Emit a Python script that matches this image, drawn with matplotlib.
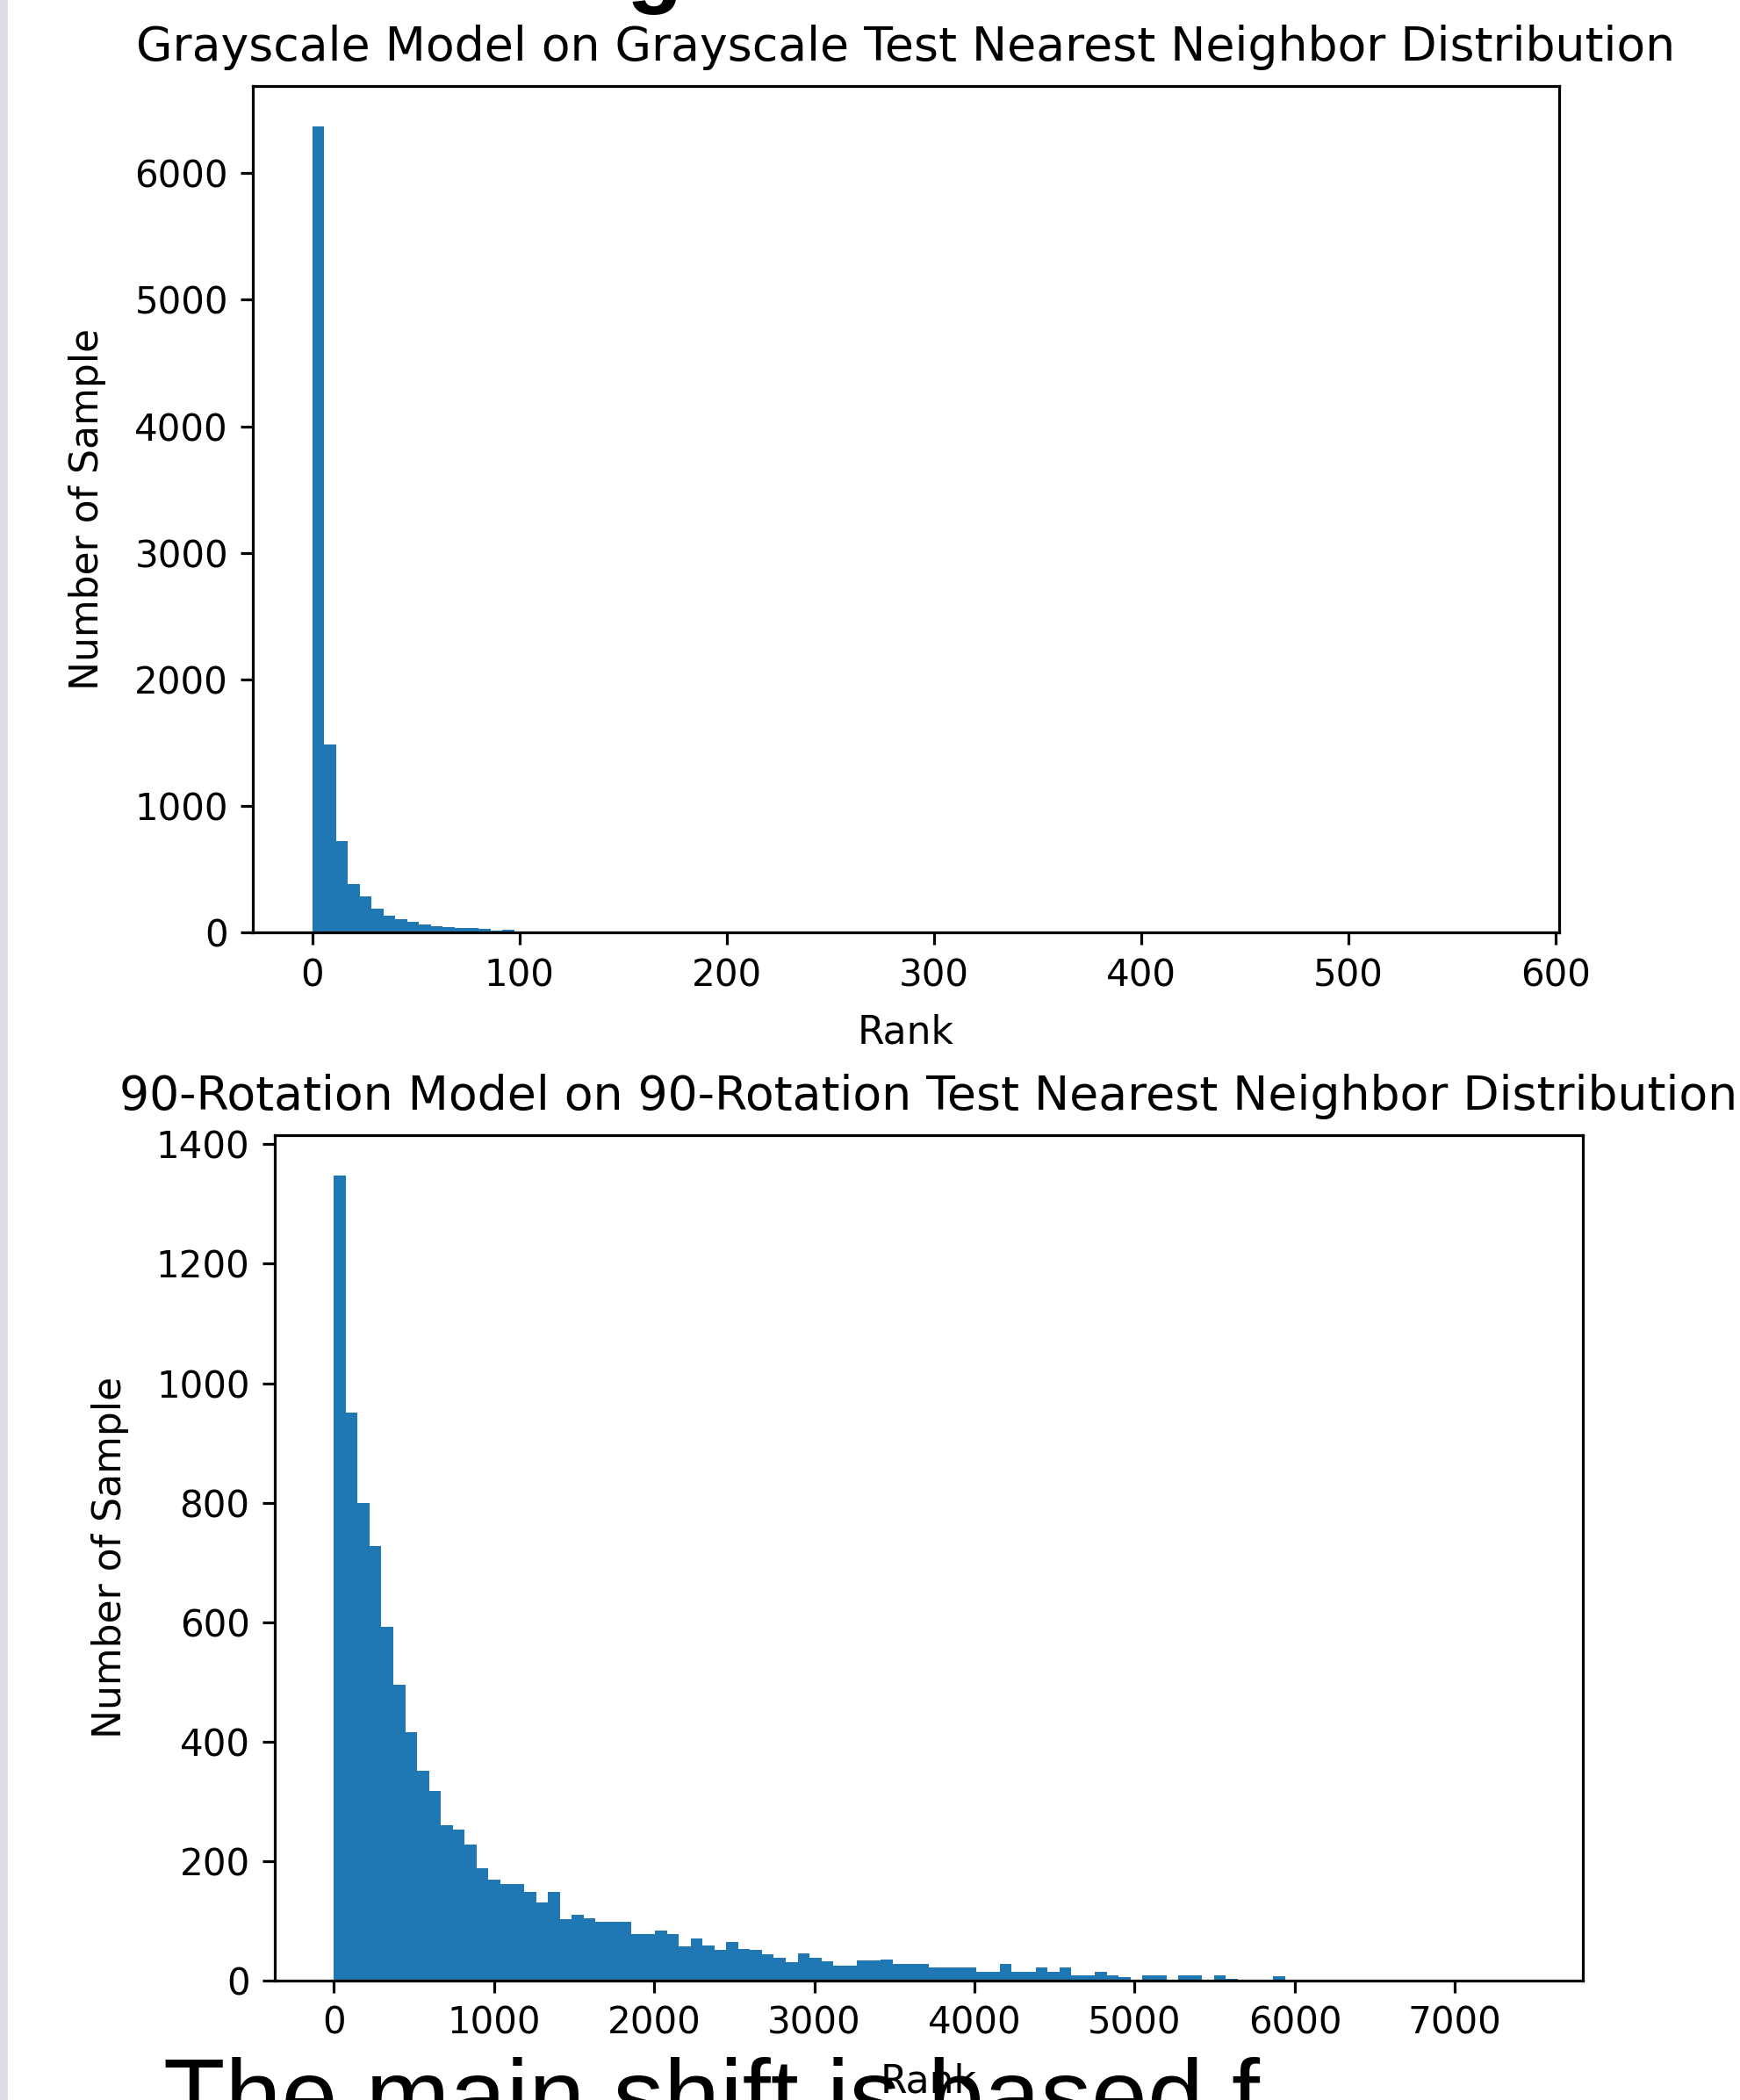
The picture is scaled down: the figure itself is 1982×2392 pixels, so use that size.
import numpy as np
import matplotlib
matplotlib.use("Agg")
import matplotlib.pyplot as plt
from matplotlib.patches import Rectangle

# scale factor: the reference is a notebook screenshot blown up ~4x
S = 2.88
plt.rcParams['font.family'] = ['DejaVu Sans']
plt.rcParams['font.size'] = 10 * S
plt.rcParams['axes.linewidth'] = 0.8 * S
for a in ['xtick', 'ytick']:
    plt.rcParams[a + '.major.size'] = 3.5 * S
    plt.rcParams[a + '.major.width'] = 0.8 * S
    plt.rcParams[a + '.major.pad'] = 3.5 * S
    plt.rcParams[a + '.labelsize'] = 10.5 * S

# histogram counts (100 bins each)
gray_max_rank = 573
gray_counts = [6370, 1485, 720, 385, 285, 190, 135, 105, 82, 62,
               50, 42, 38, 34, 30, 12, 22, 8, 6, 5,
               4, 3, 3, 2, 2, 2, 1, 1, 2, 1,
               1, 0, 1, 1, 0, 1, 0, 0, 1, 0,
               1, 0, 0, 0, 1, 0, 0, 0, 0, 1,
               0, 0, 0, 0, 0, 1, 0, 0, 0, 0,
               0, 0, 1, 0, 0, 0, 0, 0, 0, 0,
               0, 0, 0, 0, 0, 0, 0, 0, 0, 0,
               0, 0, 0, 0, 0, 0, 0, 0, 0, 0,
               0, 0, 0, 0, 0, 0, 0, 0, 0, 1]

rot_max_rank = 7425
rot_counts = [1348, 951, 800, 728, 592, 495, 416, 351, 318, 260,
              253, 228, 188, 169, 162, 162, 149, 130, 149, 103,
              110, 104, 98, 98, 98, 78, 78, 84, 78, 57,
              71, 59, 51, 65, 53, 51, 44, 38, 31, 45,
              38, 32, 25, 25, 33, 33, 35, 28, 28, 28,
              22, 22, 22, 22, 14, 14, 28, 15, 15, 22,
              14, 22, 8, 8, 15, 8, 6, 2, 8, 8,
              2, 8, 8, 2, 8, 3, 2, 2, 1, 7,
              1, 0, 1, 0, 0, 1, 0, 0, 0, 0,
              0, 0, 0, 0, 0, 0, 0, 0, 0, 1]

titles = ["Grayscale Model on Grayscale Test Nearest Neighbor Distribution",
          "90-Rotation Model on 90-Rotation Test Nearest Neighbor Distribution"]

fig = plt.figure(figsize=(19.82, 23.92), dpi=100)

# grey strip at the left edge of the screenshot
fig.add_artist(Rectangle((0, 0), 0.0045, 1, transform=fig.transFigure,
                         facecolor='#dcdde3', edgecolor='none'))

ax1 = fig.add_axes([0.1453, 0.556, 0.7508, 0.403])
edges1 = np.linspace(0, gray_max_rank, len(gray_counts) + 1)
ax1.hist(edges1[:-1], bins=edges1, weights=gray_counts)
ax1.set_title(titles[0], fontsize=13.4 * S, pad=21)
ax1.set_xlabel("Rank", fontsize=11 * S, labelpad=16)
ax1.set_ylabel("Number of Sample", fontsize=11 * S, labelpad=23)

ax2 = fig.add_axes([0.1577, 0.0569, 0.7518, 0.4026])
edges2 = np.linspace(0, rot_max_rank, len(rot_counts) + 1)
ax2.hist(edges2[:-1], bins=edges2, weights=rot_counts)
ax2.set_title(titles[1], fontsize=13.4 * S, pad=21)
ax2.set_xlabel("Rank", fontsize=11 * S, labelpad=17)
ax2.set_ylabel("Number of Sample", fontsize=11 * S, labelpad=22)

# cut-off notebook text above and below the plots
fig.text(0.36, 1.002, "g", fontsize=75, fontweight='bold',
         family='Liberation Sans', va='baseline')
fig.text(0.094, -0.014, "The main shift is based f", fontsize=83,
         family='Liberation Sans', va='baseline')

fig.savefig("out.png", dpi=100)
